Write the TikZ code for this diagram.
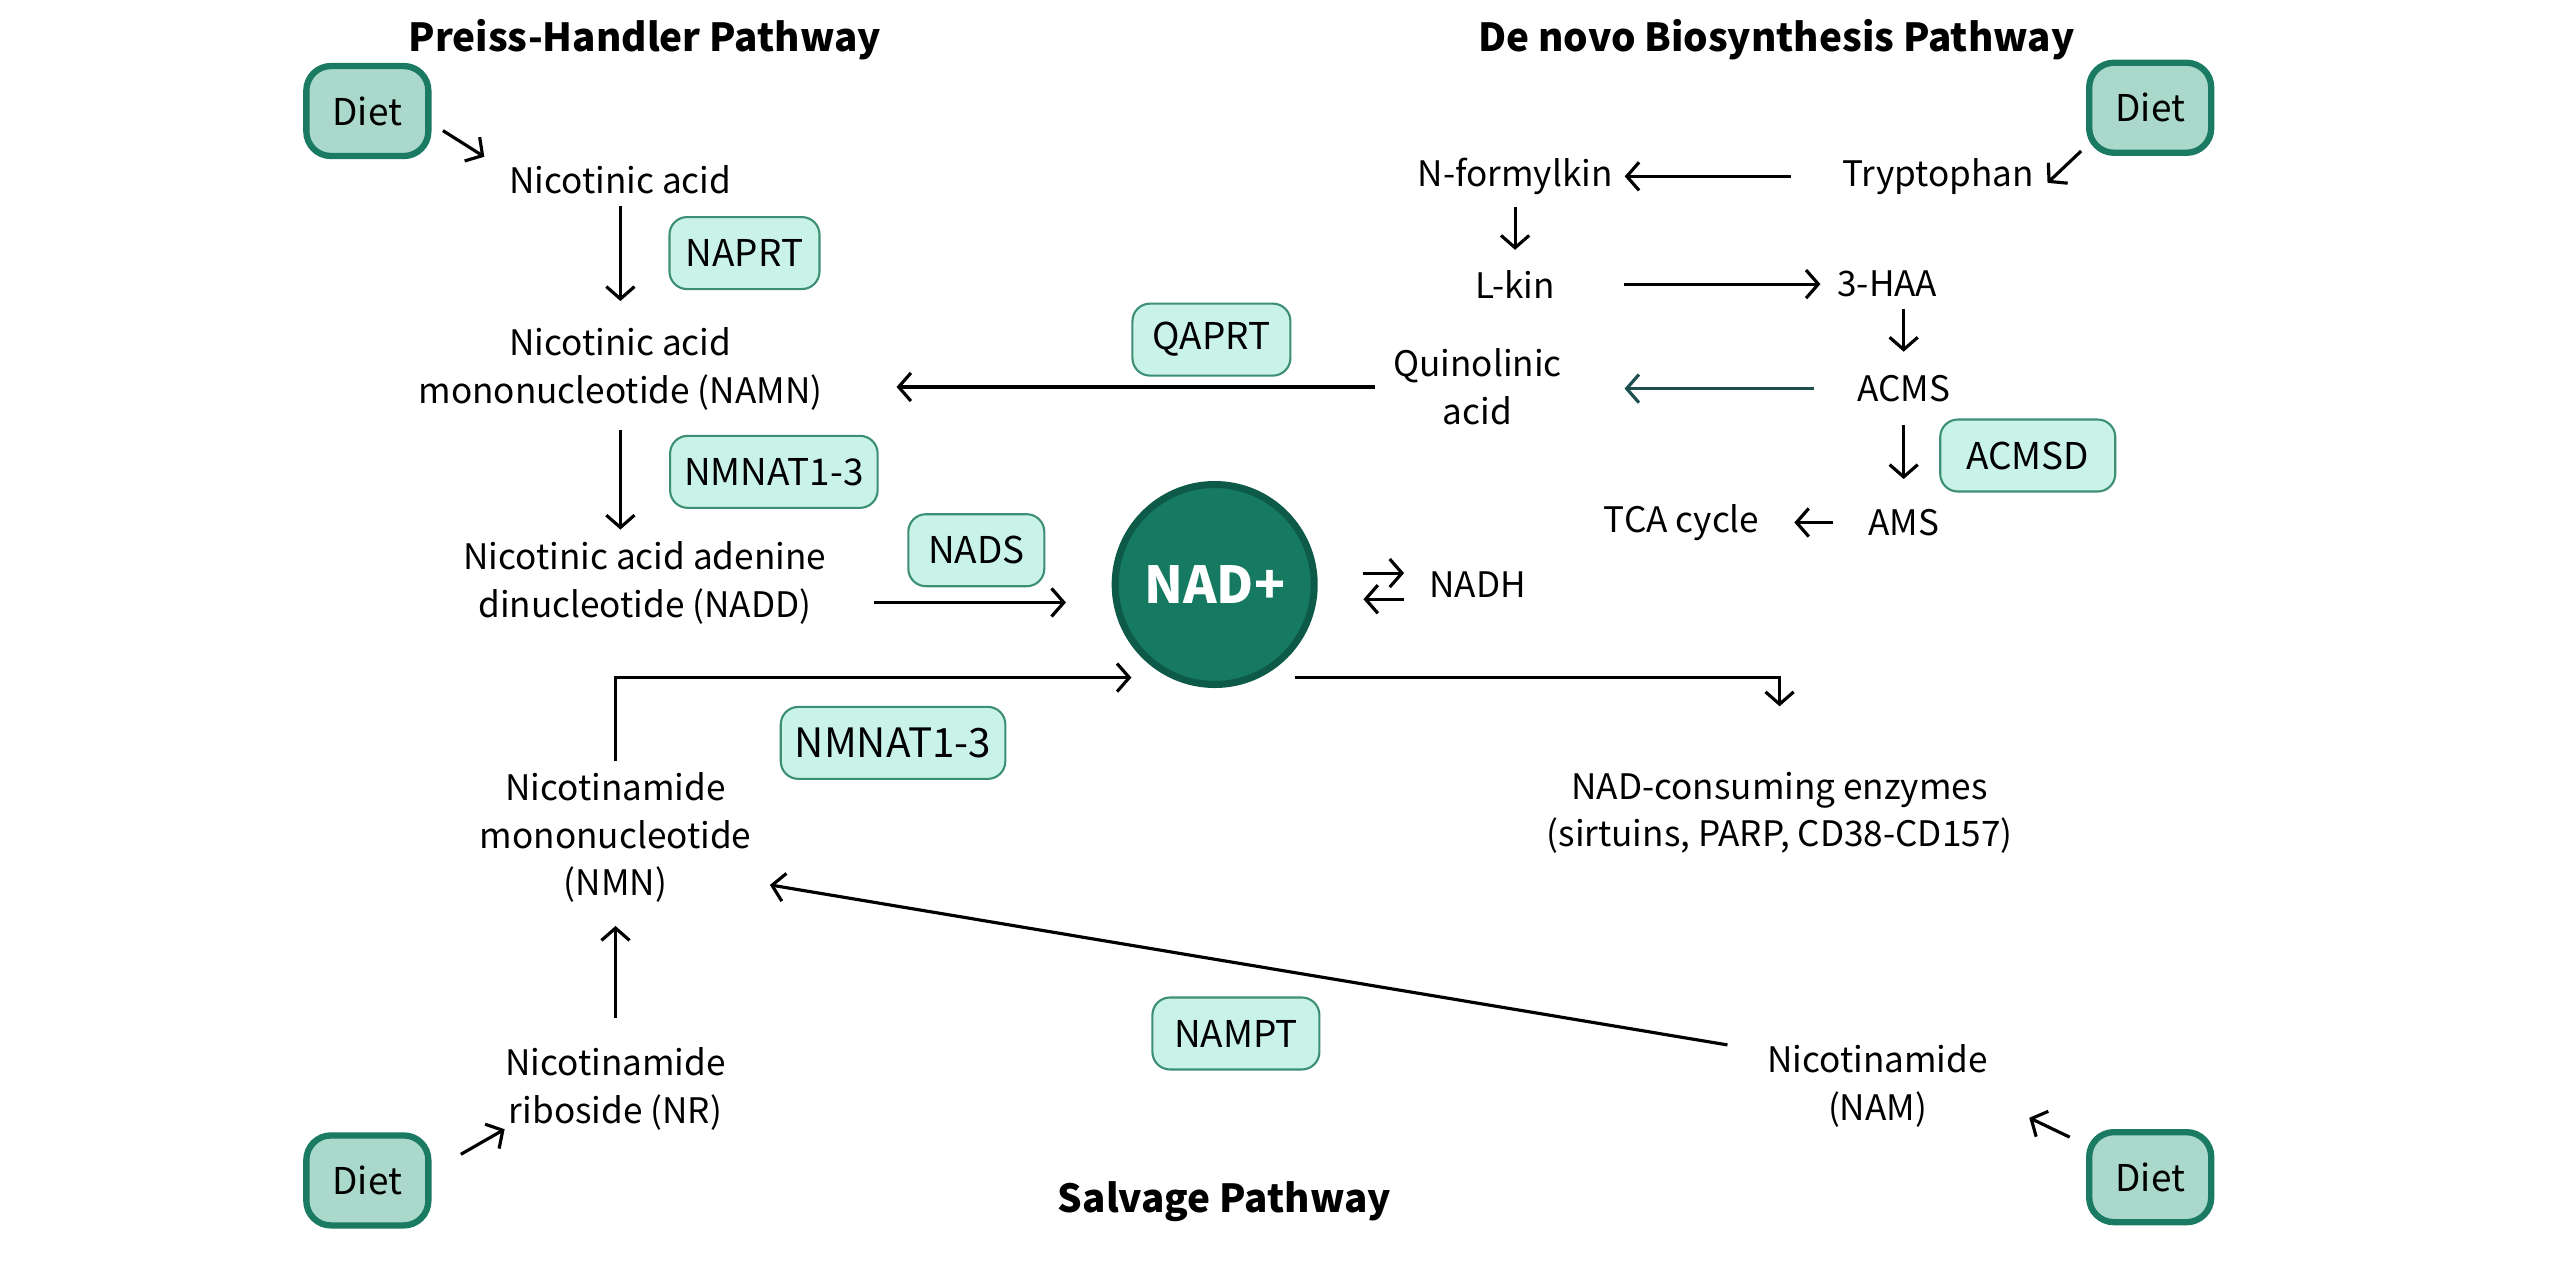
\documentclass[tikz,border=0pt]{standalone}
\usepackage{fontspec}
\setmainfont{Noto Sans CJK KR}
\usetikzlibrary{shapes.geometric,arrows.meta}
\definecolor{dietfill}{HTML}{AAD8CB}
\definecolor{dietline}{HTML}{1B7A62}
\definecolor{enzfill}{HTML}{C9F3E8}
\definecolor{enzline}{HTML}{3C8F74}
\definecolor{nadfill}{HTML}{167A62}
\definecolor{nadline}{HTML}{0E5A48}
\definecolor{tealarrow}{HTML}{1E4F4F}
\newlength{\pxu}
\setlength{\pxu}{0.016327cm}

\begin{document}
\begin{tikzpicture}[x=0.016327cm, y=-0.016327cm, >={Straight Barb[length=3.5pt,width=8pt]}, line width=0.9pt,
    lbl/.style={align=center, inner sep=3pt, font=\fontsize{10}{13.5}\selectfont},
    ttl/.style={font=\fontsize{11}{14}\selectfont\bfseries},
    enz/.style={draw=enzline, fill=enzfill, line width=0.6pt, rounded corners=5pt,
        minimum height=0.72cm, inner xsep=4pt, font=\fontsize{10.5}{13}\selectfont},
    diet/.style={draw=dietline, fill=dietfill, line width=1.8pt, rounded corners=7pt,
        minimum width=1.22cm, minimum height=0.9cm, font=\fontsize{10.5}{13}\selectfont}]

    \useasboundingbox (0,0) rectangle (1568,776);

    \node[ttl] (t1) at (395,24) {Preiss-Handler Pathway};
    \node[ttl] (t2) at (1088,24) {De novo Biosynthesis Pathway};
    \node[ttl] (t3) at (750,736) {Salvage Pathway};

    \node[diet] (d1) at (225,68) {Diet};
    \node[diet] (d2) at (1317,66) {Diet};
    \node[diet] (d3) at (225,723) {Diet};
    \node[diet] (d4) at (1317,721) {Diet};

    \node[lbl] (na) at (380,110) {Nicotinic acid};
    \node[lbl] (namn) at (380,226) {Nicotinic acid\\mononucleotide (NAMN)};
    \node[lbl] (nadd) at (395,357) {Nicotinic acid adenine\\dinucleotide (NADD)};
    \node[lbl] (nmn) at (377,513) {Nicotinamide\\mononucleotide\\(NMN)};
    \node[lbl] (nr) at (377,667) {Nicotinamide\\riboside (NR)};
    \node[lbl] (nam) at (1150,665) {Nicotinamide\\(NAM)};
    \node[lbl] (cons) at (1090,498) {NAD-consuming enzymes\\(sirtuins, PARP, CD38-CD157)};
    \node[lbl] (tryp) at (1187,108) {Tryptophan};
    \node[lbl] (nfk) at (928,108) {N-formylkin};
    \node[lbl] (lkin) at (928,174) {L-kin};
    \node[lbl] (haa) at (1156,174) {3-HAA};
    \node[lbl] (quin) at (905,237) {Quinolinic\\acid};
    \node[lbl] (acms) at (1166,238) {ACMS};
    \node[lbl] (ams) at (1166,320) {AMS};
    \node[lbl] (tca) at (1030,320) {TCA cycle};
    \node[lbl] (nadh) at (905,358) {NADH};

    \node[ellipse, draw=nadline, fill=nadfill, line width=2pt, inner sep=0pt, minimum width=1.94cm,
        minimum height=2.0cm, text=white, font=\fontsize{14.5}{17}\selectfont\bfseries] (nad) at (744,358) {NAD+};

    \node[enz, minimum width=1.5cm] (e1) at (456,155) {NAPRT};
    \node[enz, minimum width=1.83cm] (e2) at (474,289) {NMNAT1-3};
    \node[enz, minimum width=1.36cm] (e3) at (598,337) {NADS};
    \node[enz, minimum width=1.58cm] (e4) at (742,208) {QAPRT};
    \node[enz, minimum width=1.75cm] (e5) at (1242,279) {ACMSD};
    \node[enz, minimum width=2.2cm, font=\fontsize{11.5}{13}\selectfont] (e6) at (547,455) {NMNAT1-3};
    \node[enz, minimum width=1.67cm] (e7) at (757,633) {NAMPT};

    \coordinate (nadin) at (693,415);
    \coordinate (nadout) at (793,415);

    \draw [->, shorten >=9\pxu] (na) to (namn);
    \draw [->, shorten <=5\pxu] (namn.south) to (namn.south |- nadd.north);
    \draw [->, shorten <=22\pxu, shorten >=28\pxu] ([yshift=-12\pxu]nadd.east) to ([yshift=-12\pxu]nadd.east -| nad.west);
    \draw [->, shorten <=4\pxu, shorten >=38\pxu] (quin.west) to (quin.west -| namn.east);
    \draw [->, shorten <=24\pxu] (tryp) to (nfk);
    \draw [->, shorten >=5\pxu] (nfk) to (lkin);
    \draw [->, shorten <=35\pxu, shorten >=3\pxu] (lkin) to (haa);
    \draw [->, shorten >=7\pxu] (acms.north |- haa.south) to (acms.north);
    \draw [->, tealarrow, shorten <=19\pxu, shorten >=31\pxu] (acms) to (acms -| quin.east);
    \draw [->, shorten <=7\pxu, shorten >=11\pxu] (acms) to (ams);
    \draw [->, shorten <=14\pxu, shorten >=14\pxu] (ams) to (tca);
    \draw [->, shorten <=28\pxu, shorten >=8\pxu] ([yshift=7\pxu]nad.east) to ([yshift=7\pxu]nad.east -| nadh.west);
    \draw [->, shorten <=8\pxu, shorten >=28\pxu] ([yshift=-9\pxu]nadh.west) to ([yshift=-9\pxu]nadh.west -| nad.east);
    \draw [->] (nmn.north) |- (nadin);
    \draw [->, shorten >=33\pxu] (nadout) -| (cons.north);
    \draw [->, shorten <=11\pxu, shorten >=7\pxu] (nr) to (nmn);
    \draw [->] ([xshift=-17\pxu,yshift=25\pxu]nam.west) to ([xshift=4\pxu,yshift=-29\pxu]nmn.east);
    \draw [->] ([xshift=7\pxu,yshift=-12\pxu]d1.east) to ([xshift=-8\pxu,yshift=14\pxu]na.west);
    \draw [->] ([xshift=-3\pxu,yshift=3\pxu]d2.south west) to ([xshift=1\pxu,yshift=-4\pxu]tryp.east);
    \draw [->] ([xshift=18\pxu,yshift=16\pxu]d3.east) to ([xshift=7\pxu,yshift=8\pxu]nr.south west);
    \draw [->] ([xshift=-10\pxu,yshift=-5\pxu]d4.north west) to ([xshift=18\pxu,yshift=13\pxu]nam.south east);

\end{tikzpicture}
\end{document}
